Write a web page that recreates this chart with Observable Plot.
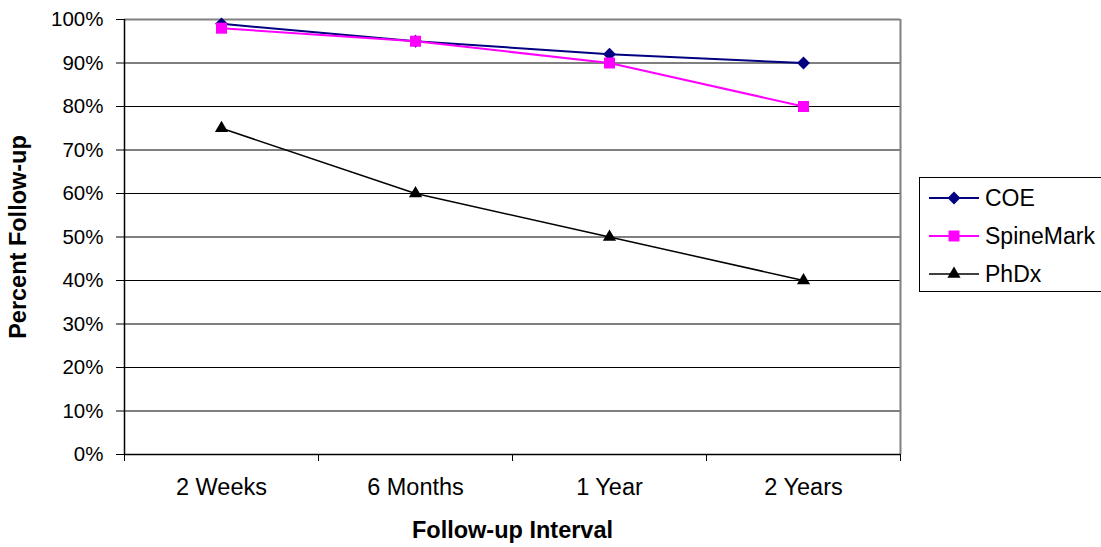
<!DOCTYPE html>
<html>
<head>
<meta charset="utf-8">
<script src="https://cdn.jsdelivr.net/npm/d3@7"></script>
<script src="https://cdn.jsdelivr.net/npm/@observablehq/plot@0.6"></script>
<style>
  html, body { margin: 0; padding: 0; background: #fff; overflow: hidden; }
  #wrap { position: relative; width: 1101px; height: 547px; font-family: "Liberation Sans", Arial, sans-serif; }
  #legend { position: absolute; left: 919px; top: 177px; width: 200px; height: 115px; border: 1px solid #000; box-sizing: border-box; background: #fff; }
  .item { position: absolute; left: 8px; height: 30px; display: flex; align-items: center; font-size: 23px; color: #000; }
  .item svg { margin-right: 5px; }
</style>
</head>
<body>
<div id="wrap"><div id="chart"></div><div id="legend"></div></div>
<script>
const intervals = ["2 Weeks", "6 Months", "1 Year", "2 Years"];
const seriesNames = ["COE", "SpineMark", "PhDx"];
const coe = [0.99, 0.95, 0.92, 0.90];
const spineMark = [0.98, 0.95, 0.90, 0.80];
const phdx = [0.75, 0.60, 0.50, 0.40];
const yTicks = [0, 0.1, 0.2, 0.3, 0.4, 0.5, 0.6, 0.7, 0.8, 0.9, 1.0];

const colors = ["#000080", "#FF00FF", "#000000"];
const symbols = ["diamond2", "square", "triangle"];
const radii = [5.8, 6.2, 4.9];
const widths = [2, 2, 1.5];
const allSeries = [coe, spineMark, phdx];

const idx = intervals.map((_, i) => i);
const bounds = [-0.5, ...idx.map(i => i + 0.5)];

const seriesMarks = allSeries.flatMap((vals, s) => [
  Plot.line(vals, {x: (d, i) => i, y: d => d, stroke: colors[s], strokeWidth: widths[s]}),
  Plot.dot(vals, {x: (d, i) => i, y: d => d, symbol: symbols[s], r: radii[s], fill: colors[s], stroke: "none"})
]);

const chart = Plot.plot({
  width: 1101,
  height: 547,
  marginLeft: 124,
  marginRight: 201,
  marginTop: 19,
  marginBottom: 93,
  style: {fontFamily: "'Liberation Sans', Arial, sans-serif", fontSize: "21px", color: "#000", background: "#fff"},
  x: {type: "linear", domain: [bounds[0], bounds[bounds.length - 1]]},
  y: {domain: [0, 1]},
  marks: [
    Plot.gridY(yTicks.filter(t => t > 0 && t < 1), {stroke: "#000", strokeOpacity: 1, strokeWidth: 1}),
    Plot.ruleY([1], {stroke: "#808080", strokeWidth: 2}),
    Plot.ruleX([bounds[bounds.length - 1]], {stroke: "#808080", strokeWidth: 2}),
    Plot.ruleY([0], {stroke: "#000", strokeWidth: 1.5}),
    Plot.ruleX([bounds[0]], {stroke: "#000", strokeWidth: 1.5}),
    Plot.axisY({ticks: yTicks, tickFormat: d3.format(".0%"), tickSize: 8, tickPadding: 13, label: null, fontSize: 20.5}),
    Plot.axisX({ticks: bounds, tickFormat: () => "", tickSize: 7, label: null}),
    Plot.axisX({ticks: idx, tickFormat: i => intervals[i], tickSize: 0, tickPadding: 24, label: null, fontSize: 23.5}),
    Plot.text(["Percent Follow-up"], {frameAnchor: "left", text: d => d, textAnchor: "middle", lineAnchor: "middle", rotate: -90, dx: -106, fontWeight: "bold", fontSize: 23.5, fill: "#000"}),
    Plot.text(["Follow-up Interval"], {frameAnchor: "bottom", text: d => d, textAnchor: "middle", lineAnchor: "middle", dy: 76, fontWeight: "bold", fontSize: 23.5, fill: "#000"}),
    ...seriesMarks
  ]
});
document.getElementById("chart").appendChild(chart);

// legend
const legend = document.getElementById("legend");
const symPath = (s, r) => {
  const map = {diamond2: d3.symbolDiamond2, square: d3.symbolSquare, triangle: d3.symbolTriangle};
  return d3.symbol(map[s], Math.PI * r * r)();
};
seriesNames.forEach((name, s) => {
  const item = document.createElement("div");
  item.className = "item";
  item.style.top = (5 + s * 38) + "px";
  item.innerHTML = `<svg width="52" height="20"><line x1="1" x2="51" y1="10" y2="10" stroke="${colors[s]}" stroke-width="${widths[s]}"/><path transform="translate(26,10)" d="${symPath(symbols[s], radii[s])}" fill="${colors[s]}"/></svg><span>${name}</span>`;
  legend.appendChild(item);
});
</script>
</body>
</html>
